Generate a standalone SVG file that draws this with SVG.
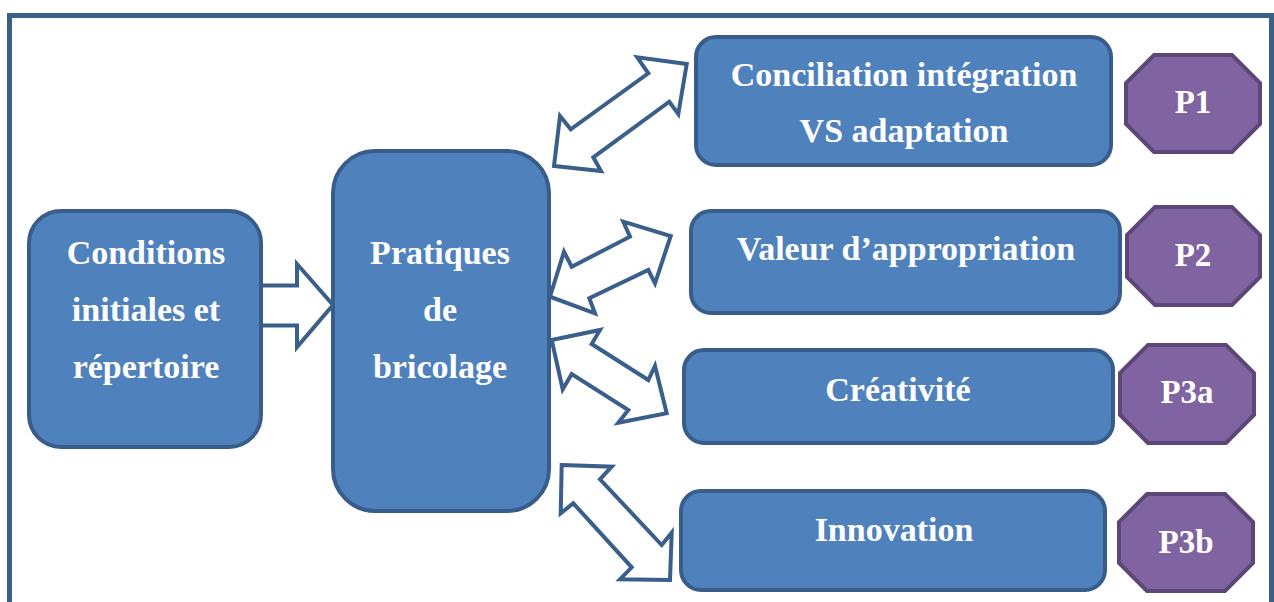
<svg xmlns="http://www.w3.org/2000/svg" width="1274" height="602" viewBox="0 0 1274 602">
<style>
.frame{fill:none;stroke:#3A5F8B;stroke-width:5}
.box{fill:#4F81BD;stroke:#385D8A;stroke-width:4}
.oct{fill:#8064A2;stroke:#5C4776;stroke-width:4}
.arr{fill:#FFFFFF;stroke:#3A5F8B;stroke-width:4;stroke-linejoin:miter}
.t{font-family:"Liberation Serif","Times New Roman",serif;font-weight:bold;font-size:34px;fill:#FFFFFF;text-anchor:middle}
.p{font-size:33px}
</style>
<rect width="1274" height="602" fill="#FFFFFF"/>
<rect class="frame" x="9.5" y="15.5" width="1262" height="620"/>
<g id="connectors">
<polygon class="arr" points="255,285.5 297,285.5 297,264 333,305 297,347 297,325.5 255,325.5"/>
<polygon class="arr" points="686.7,64 678.3,114 669.3,101.7 593.3,157.3 601,171 554,166 560,116 570.7,129.3 648.3,73.3 637.3,57.3"/>
<polygon class="arr" points="670.7,236 655,283.3 648.3,270 589.3,298.3 595,313.3 550,296.7 564,251.7 571.7,266.7 630,236.7 623.3,221.7"/>
<polygon class="arr" points="551.7,340 600,330 591.7,344 648.3,380 655,366 666.7,413.3 618.3,422.7 628.3,410 571.7,374 562.7,389.3"/>
<polygon class="arr" points="561.7,465 611.7,466.7 600,479.3 661.7,545 671.7,532.7 670,580 620,579.3 631.7,567.3 573.3,503.3 560.7,513.3"/>
</g>
<g id="conditions">
<rect class="box" x="29" y="211" width="232" height="236" rx="32"/>
<text class="t" x="146" y="264">Conditions</text>
<text class="t" x="146" y="321">initiales et</text>
<text class="t" x="146" y="378">répertoire</text>
</g>
<g id="pratiques">
<rect class="box" x="333" y="151" width="216" height="360" rx="42"/>
<text class="t" x="440" y="264">Pratiques</text>
<text class="t" x="440" y="321">de</text>
<text class="t" x="440" y="378">bricolage</text>
</g>
<g id="conciliation">
<rect class="box" x="696" y="37" width="415" height="128" rx="20"/>
<text class="t" x="904" y="86">Conciliation intégration</text>
<text class="t" x="904" y="142">VS adaptation</text>
</g>
<g id="valeur">
<rect class="box" x="691" y="211" width="429" height="102" rx="20"/>
<text class="t" x="906" y="260">Valeur d’appropriation</text>
</g>
<g id="creativite">
<rect class="box" x="684" y="350" width="429" height="93" rx="20"/>
<text class="t" x="898" y="401">Créativité</text>
</g>
<g id="innovation">
<rect class="box" x="681" y="491" width="424" height="99" rx="20"/>
<text class="t" x="894" y="541">Innovation</text>
</g>
<g id="p1">
<polygon class="oct" points="1154,55 1232,55 1260,83 1260,124 1232,152 1154,152 1126,124 1126,83"/>
<text class="t p" x="1193" y="113">P1</text>
</g>
<g id="p2">
<polygon class="oct" points="1155,207 1232,207 1260,235 1260,277 1232,305 1155,305 1127,277 1127,235"/>
<text class="t p" x="1193" y="266">P2</text>
</g>
<g id="p3a">
<polygon class="oct" points="1148,345 1226,345 1254,373 1254,415 1226,443 1148,443 1120,415 1120,373"/>
<text class="t p" x="1187" y="403">P3a</text>
</g>
<g id="p3b">
<polygon class="oct" points="1147,494 1225,494 1253,522 1253,563 1225,591 1147,591 1119,563 1119,522"/>
<text class="t p" x="1186" y="553">P3b</text>
</g>
</svg>
